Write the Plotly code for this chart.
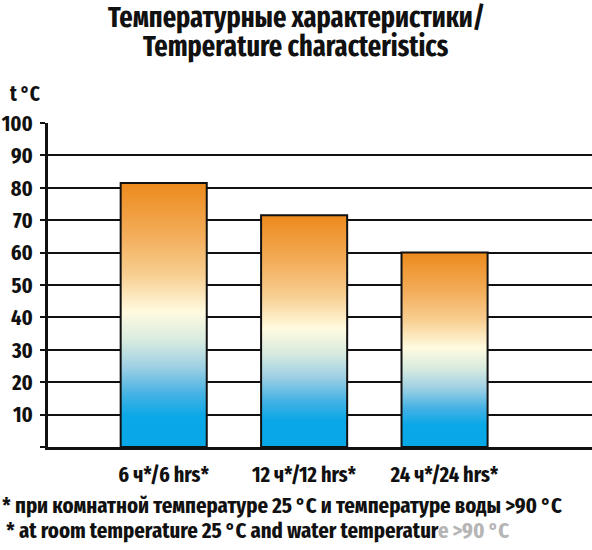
import plotly.graph_objects as go

categories = ["6 ч*/6 hrs*", "12 ч*/12 hrs*", "24 ч*/24 hrs*"]
values = [81.5, 71.5, 60.0]
y_ticks = [0, 10, 20, 30, 40, 50, 60, 70, 80, 90, 100]
y_tick_labels = ["", "10", "20", "30", "40", "50", "60", "70", "80", "90", "100"]

title_line1 = "Температурные характеристики/"
title_line2 = "Temperature characteristics"
y_unit = "t °C"
note_ru = "* при комнатной температуре 25 °C и температуре воды >90 °C"
note_en_clear = "* at room temperature 25 °C and water temperatur"
note_en_blur = "e >90 °C"

W, H = 592, 550
ML, MR, MT, MB = 48, 0, 123, 103
FONT = "Fira Sans Extra Condensed, Roboto Condensed, DejaVu Sans Condensed, sans-serif"
INK = "#111111"
BAR_W = 0.613

gradient = [
    [0.0, "#07a6e4"], [0.115, "#0aa8e6"], [0.2, "#45b2e4"], [0.3, "#9ccfe4"],
    [0.4, "#d6eadf"], [0.51, "#fffbe0"], [0.65, "#f8cf92"], [0.8, "#f3ad5a"],
    [1.0, "#ec8a1c"],
]

fig = go.Figure()
xs = list(range(len(categories)))
for i, v in zip(xs, values):
    x0, x1 = i - BAR_W / 2, i + BAR_W / 2
    fig.add_trace(go.Scatter(
        x=[x0, x1, x1, x0, x0], y=[0, 0, v, v, 0],
        mode="lines", fill="toself",
        fillgradient=dict(type="vertical", colorscale=gradient, start=0, stop=v),
        line=dict(color=INK, width=2),
        hoverinfo="skip", showlegend=False,
    ))

pw = W - ML - MR
ph = H - MT - MB

def px(x):
    return (x - ML) / pw

def py(y):
    return (H - MB - y) / ph

def label(text, x, y, size, xanchor="left"):
    return dict(text=text, xref="paper", yref="paper", x=px(x), y=py(y),
                xanchor=xanchor, yanchor="middle", showarrow=False,
                font=dict(family=FONT, size=size, color=INK, weight="bold"))

fig.update_layout(
    width=W, height=H,
    margin=dict(l=ML, r=MR, t=MT, b=MB, pad=0),
    paper_bgcolor="white", plot_bgcolor="white",
    font=dict(family=FONT, color=INK),
    showlegend=False,
    xaxis=dict(
        range=[-0.824, 3.05], tickvals=xs, ticktext=categories,
        showgrid=False, zeroline=False, showline=True,
        linecolor=INK, linewidth=2.5, ticks="",
        tickfont=dict(family=FONT, size=22, color=INK, weight="bold"),
        ticklabelstandoff=6, fixedrange=True,
    ),
    yaxis=dict(
        range=[0, 100], tickvals=y_ticks, ticktext=y_tick_labels,
        showgrid=True, gridcolor=INK, gridwidth=2,
        zeroline=False, showline=True, linecolor=INK, linewidth=2.5,
        ticks="outside", ticklen=5, tickwidth=2, tickcolor=INK,
        tickfont=dict(family=FONT, size=22, color=INK, weight="bold"),
        ticklabelstandoff=3, fixedrange=True,
    ),
    annotations=[
        label(title_line1, W / 2, 17, 28.5, "center"),
        label(title_line2, W / 2, 46, 28.5, "center"),
        label(y_unit, 8, 94.5, 21),
        label(note_ru, 0, 505.5, 22.5),
        label(note_en_clear + "<span style='color:#b5b5b5'>" + note_en_blur + "</span>", 4, 530, 22.5),
    ],
)

fig.write_html("out.html", config={"displayModeBar": False},
               post_script="document.body.style.margin='0';")
